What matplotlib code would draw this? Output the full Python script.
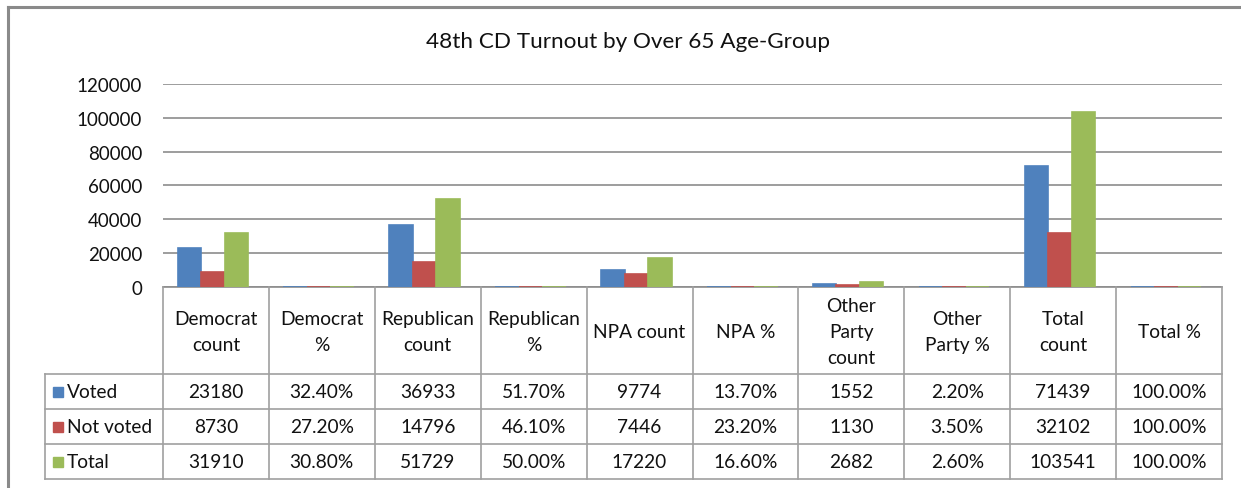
import matplotlib
matplotlib.use("Agg")
import matplotlib.pyplot as plt
import numpy as np

plt.rcParams['font.family'] = ['Lato', 'DejaVu Sans']

categories = ["Democrat\ncount", "Democrat\n%", "Republican\ncount", "Republican\n%",
              "NPA count", "NPA %", "Other\nParty\ncount", "Other\nParty %",
              "Total\ncount", "Total %"]
series_names = ["Voted", "Not voted", "Total"]
voted = [23180, 32.4, 36933, 51.7, 9774, 13.7, 1552, 2.2, 71439, 100.0]
not_voted = [8730, 27.2, 14796, 46.1, 7446, 23.2, 1130, 3.5, 32102, 100.0]
total = [31910, 30.8, 51729, 50.0, 17220, 16.6, 2682, 2.6, 103541, 100.0]
voted_labels = ["23180", "32.40%", "36933", "51.70%", "9774", "13.70%", "1552", "2.20%", "71439", "100.00%"]
not_voted_labels = ["8730", "27.20%", "14796", "46.10%", "7446", "23.20%", "1130", "3.50%", "32102", "100.00%"]
total_labels = ["31910", "30.80%", "51729", "50.00%", "17220", "16.60%", "2682", "2.60%", "103541", "100.00%"]
yticks = [0, 20000, 40000, 60000, 80000, 100000, 120000]
title = "48th CD Turnout by Over 65 Age-Group"

colors = ["#4F81BD", "#C0504D", "#9BBB59"]
grid_col = "#8c8c8c"
table_col = "#a0a0a0"
txt_col = "#111111"

W, H = 1241, 489
fig = plt.figure(figsize=(W / 100, H / 100), dpi=100)

# pixel layout
PL, PR, PT, PB = 163, 1222, 85, 288
ax = fig.add_axes([PL / W, (H - PB) / H, (PR - PL) / W, (PB - PT) / H])
n = len(categories)
x = np.arange(n)
bw = 0.222
for i, (vals, c) in enumerate(zip([voted, not_voted, total], colors)):
    ax.bar(x + (i - 1) * bw - 0.03, vals, width=bw, color=c, edgecolor=c, linewidth=1.2, zorder=3)
ax.set_xlim(-0.5, n - 0.5)
ax.set_ylim(0, 120000)
ax.set_yticks(yticks)
ax.set_yticklabels([str(v) for v in yticks], fontsize=13.5, color=txt_col)
ax.tick_params(axis='y', length=0, pad=15)
ax.tick_params(axis='x', length=0, labelbottom=False)
ax.grid(axis='y', color=grid_col, linewidth=1.2, zorder=0)
for s in ["top", "right", "left"]:
    ax.spines[s].set_visible(False)
ax.spines["bottom"].set_color(grid_col)
ax.spines["bottom"].set_linewidth(1.2)
ax.set_xticks([])

# overlay for table, frame and title (pixel coordinates)
ov = fig.add_axes([0, 0, 1, 1], zorder=5)
ov.set_xlim(0, W)
ov.set_ylim(H, 0)
ov.axis("off")
ov.patch.set_alpha(0)

# outer frame
ov.plot([8, W], [8, 8], color="#8a8a8a", lw=2.2)
ov.plot([8, 8], [8, H], color="#8a8a8a", lw=2.2)

ov.text(628, 42, title, ha="center", va="center", fontsize=16.2, color=txt_col)

colw = (PR - PL) / n
LL = 45
row_y = [PB, 375, 410, 445, 480]
# header verticals
for k in range(n + 1):
    xx = PL + k * colw
    ov.plot([xx, xx], [PB, row_y[-1]], color=table_col, lw=1.2)
# horizontal lines
for yy in row_y[1:]:
    ov.plot([LL, PR], [yy, yy], color=table_col, lw=1.2)
ov.plot([LL, LL], [row_y[1], row_y[-1]], color=table_col, lw=1.2)

fs = 13.8
for k, lab in enumerate(categories):
    cx = PL + (k + 0.5) * colw
    ov.text(cx, (row_y[0] + row_y[1]) / 2 + 1, lab, ha="center", va="center",
            fontsize=fs, color=txt_col, linespacing=1.65)

rows = [voted_labels, not_voted_labels, total_labels]
for r, (labels, name, c) in enumerate(zip(rows, series_names, colors)):
    cy = (row_y[r + 1] + row_y[r + 2]) / 2
    ov.add_patch(plt.Rectangle((53, cy - 5), 10, 10, color=c))
    ov.text(67, cy, name, ha="left", va="center", fontsize=fs, color=txt_col)
    for k, lab in enumerate(labels):
        cx = PL + (k + 0.5) * colw
        ov.text(cx, cy, lab, ha="center", va="center", fontsize=fs, color=txt_col)

fig.savefig("out.png", dpi=100)
